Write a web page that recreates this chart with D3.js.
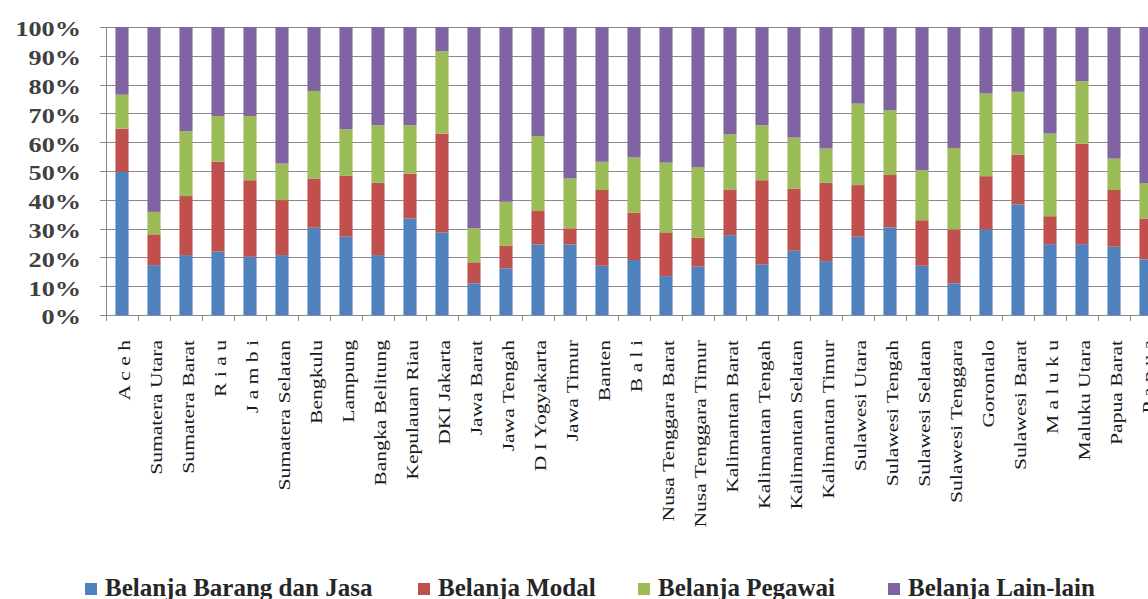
<!DOCTYPE html>
<html><head><meta charset="utf-8">
<script src="https://cdn.jsdelivr.net/npm/d3@7"></script>
<style>body{margin:0;background:#fff;} svg{display:block;}</style>
</head><body>
<svg id="c" width="1148" height="599"></svg>
<script>
const categories = ["A c e h","Sumatera Utara","Sumatera Barat","R i a u","J a m b i","Sumatera Selatan","Bengkulu","Lampung","Bangka Belitung","Kepulauan Riau","DKI Jakarta","Jawa Barat","Jawa Tengah","D I Yogyakarta","Jawa Timur","Banten","B a l i","Nusa Tenggara Barat","Nusa Tenggara Timur","Kalimantan Barat","Kalimantan Tengah","Kalimantan Selatan","Kalimantan Timur","Sulawesi Utara","Sulawesi Tengah","Sulawesi Selatan","Sulawesi Tenggara","Gorontalo","Sulawesi Barat","M a l u k u","Maluku Utara","Papua Barat","P a p u a"];
const seriesNames = ["Belanja Barang dan Jasa","Belanja Modal","Belanja Pegawai","Belanja Lain-lain"];
const barangJasa = [49.7,17.3,20.8,22.0,20.2,20.8,30.3,27.2,20.8,33.5,28.7,11.0,16.2,24.5,24.5,17.1,19.1,13.5,16.8,27.7,17.6,22.3,18.7,27.2,30.4,17.1,11.0,29.7,38.4,24.6,24.6,23.7,19.3];
const modal      = [15.0,10.7,20.5,31.2,26.6,19.1,17.1,21.1,25.1,15.6,34.3,7.3,7.8,11.6,5.6,26.3,16.4,15.2,10.0,15.9,29.2,21.6,27.2,17.9,18.2,15.8,18.7,18.5,17.3,9.7,34.9,19.7,14.2];
const pegawai    = [11.8,7.8,22.5,15.9,22.3,12.7,30.4,16.2,20.0,16.8,28.6,11.8,15.3,26.0,17.3,9.8,19.2,24.2,24.6,19.2,19.1,17.7,11.9,28.3,22.5,17.4,28.3,28.7,21.8,28.7,21.7,10.9,12.2];
const lainLain   = [23.5,64.2,36.2,30.9,30.9,47.4,22.2,35.5,34.1,34.1,8.4,69.9,60.7,37.9,52.6,46.8,45.3,47.1,48.6,37.2,34.1,38.4,42.2,26.6,28.9,49.7,42.0,23.1,22.5,37.0,18.8,45.7,54.3];
const yTicks = [0,10,20,30,40,50,60,70,80,90,100];
const colors = ["#4F81BD","#C0504D","#9BBB59","#8064A2"];

const svg = d3.select("#c");
const plotLeft = 106, plotTop = 27, plotBottom = 315;
const step = 32;
const x = d3.scaleBand().domain(categories).range([plotLeft, plotLeft + step*categories.length]).paddingInner(0.59).paddingOuter(0.295);
const y = d3.scaleLinear().domain([0,100]).range([plotBottom, plotTop]);

const keys = ["b","m","p","l"];
const table = categories.map((c,i)=>({cat:c,b:barangJasa[i],m:modal[i],p:pegawai[i],l:lainLain[i]}));
table.forEach(d=>{const t=d.b+d.m+d.p+d.l; keys.forEach(k=>d[k]=d[k]/t*100);});
const stacked = d3.stack().keys(keys)(table);

// gridlines
svg.append("g").selectAll("line").data(yTicks).join("line")
  .attr("x1", plotLeft-6).attr("x2", 1148)
  .attr("y1", d=>Math.round(y(d))+0.5).attr("y2", d=>Math.round(y(d))+0.5)
  .attr("stroke", "#8a8a8a").attr("stroke-width", 1);
// y axis line
svg.append("line").attr("x1", plotLeft+0.5).attr("x2", plotLeft+0.5).attr("y1", y(100)).attr("y2", y(0))
  .attr("stroke","#8a8a8a");
// x ticks at band boundaries
const bounds = d3.range(categories.length+1).map(i=>plotLeft + i*x.step());
svg.append("g").selectAll("line").data(bounds).join("line")
  .attr("x1", d=>Math.round(d)+0.5).attr("x2", d=>Math.round(d)+0.5)
  .attr("y1", Math.round(y(0))).attr("y2", Math.round(y(0))+6)
  .attr("stroke","#8a8a8a");

// bars
svg.append("g").selectAll("g").data(stacked).join("g")
  .attr("fill",(d,i)=>colors[i])
  .selectAll("rect").data(d=>d).join("rect")
  .attr("x", d=>x(d.data.cat)).attr("width", x.bandwidth())
  .attr("y", d=>y(d[1])).attr("height", d=>y(d[0])-y(d[1]));

// y labels
svg.append("g").selectAll("text").data(yTicks).join("text")
  .attr("transform", d=>`translate(81,${y(d)+2}) scale(1.25,1)`)
  .attr("text-anchor","end").attr("dy","0.35em")
  .attr("font-family","'Liberation Serif', serif").attr("font-weight","bold")
  .attr("font-size",21).attr("fill","#404040")
  .text(d=>d+"%");

// x labels
svg.append("g").selectAll("text").data(categories).join("text")
  .attr("transform", d=>`translate(${x(d)+x.bandwidth()/2+2},340) rotate(-90) scale(1.27,1)`)
  .attr("text-anchor","end").attr("dy","0.35em")
  .attr("font-family","'Liberation Serif', serif")
  .attr("font-size",17).attr("fill","#1a1a1a")
  .text(d=>d);

// legend
const legX = [85, 418, 638, 888];
const leg = svg.append("g").selectAll("g").data(seriesNames).join("g")
  .attr("transform",(d,i)=>`translate(${legX[i]},0)`);
leg.append("rect").attr("x",0).attr("y",583).attr("width",12).attr("height",12).attr("fill",(d,i)=>colors[i]);
leg.append("text").attr("x",20).attr("y",596)
  .attr("font-family","'Liberation Serif', serif").attr("font-weight","bold")
  .attr("font-size",25).attr("fill","#262626").text(d=>d);
</script>
</body></html>
